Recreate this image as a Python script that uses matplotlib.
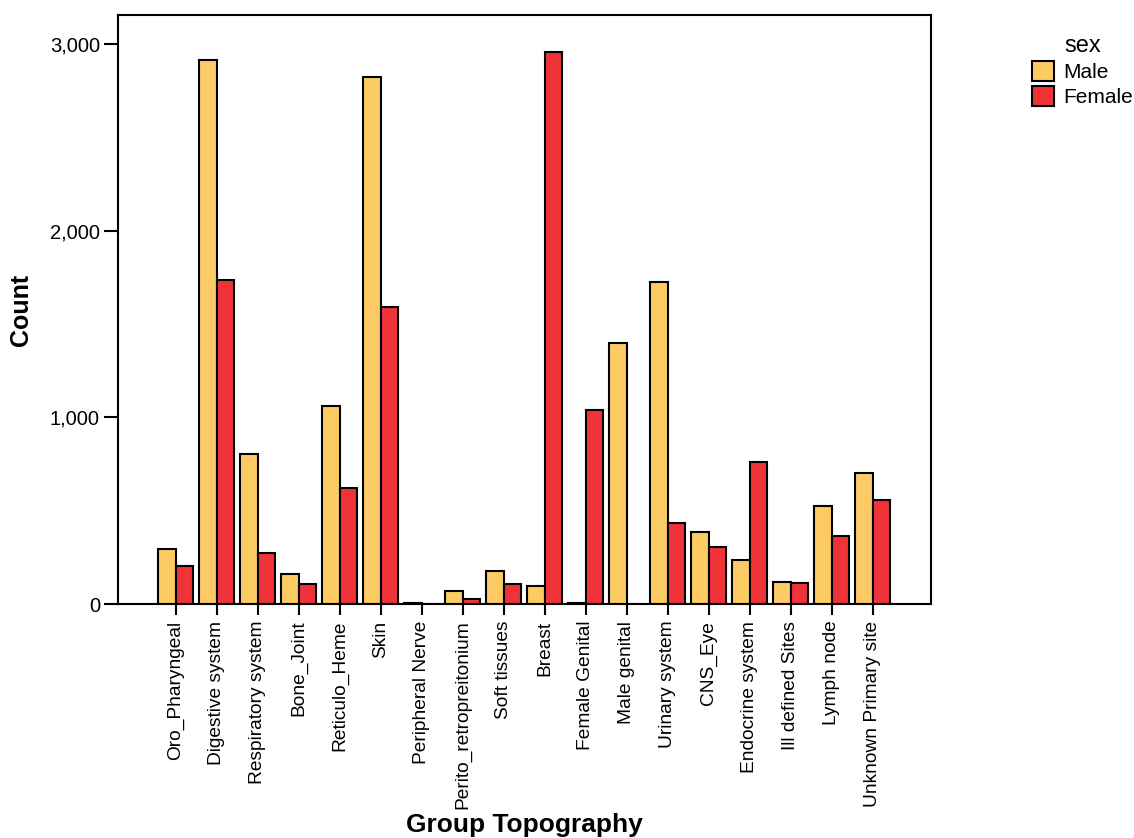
import matplotlib
matplotlib.use("Agg")
import matplotlib.pyplot as plt
import matplotlib.ticker as mticker
import numpy as np

plt.rcParams['font.family'] = ['Liberation Sans', 'DejaVu Sans']

# ======================== data ==============================
topography = ['Oro_Pharyngeal', 'Digestive system', 'Respiratory system', 'Bone_Joint',
              'Reticulo_Heme', 'Skin', 'Peripheral Nerve', 'Perito_retropreitonium',
              'Soft tissues', 'Breast', 'Female Genital', 'Male genital', 'Urinary system',
              'CNS_Eye', 'Endocrine system', 'Ill defined Sites', 'Lymph node',
              'Unknown Primary site']
male = [295, 2914, 804, 159, 1062, 2825, 3, 71, 177, 95, 4, 1398, 1727, 386, 234, 116, 525, 700]
female = [205, 1736, 271, 107, 620, 1591, 2, 29, 107, 2959, 1039, 1, 432, 307, 759, 112, 364, 557]

male_color = '#fdcb64'
female_color = '#ef3339'

# ======================== plot ==============================
fig = plt.figure(figsize=(11.34, 8.38), dpi=100)
ax = fig.add_axes([0.104, 0.2792, 0.7167, 0.7028])

x = np.arange(len(topography))
w = 0.427
ax.bar(x - w / 2, male, w, color=male_color, edgecolor='black', linewidth=1.5, label='Male')
ax.bar(x + w / 2, female, w, color=female_color, edgecolor='black', linewidth=1.5, label='Female')

ax.set_xlim(-1.41, len(topography) - 1 + 1.41)
ax.set_ylim(0, 3155)
ax.set_yticks([0, 1000, 2000, 3000])
ax.yaxis.set_major_formatter(mticker.StrMethodFormatter('{x:,.0f}'))
ax.set_xticks(x)
ax.set_xticklabels(topography, rotation=90, fontsize=13.8)
ax.tick_params(axis='y', labelsize=14.5, length=10, width=1.5, pad=3)
ax.tick_params(axis='x', length=8, width=1.5, pad=4)
for s in ax.spines.values():
    s.set_linewidth(1.5)

ax.set_ylabel('Count', fontsize=18, fontweight='bold', labelpad=12)
# x label placed by hand so it stays inside the figure
fig.text(0.462, 0.016, 'Group Topography', fontsize=19, fontweight='bold',
         ha='center', va='center')

fig.legend(title='sex', loc='upper left', bbox_to_anchor=(0.899, 0.973), frameon=False,
           fontsize=15, title_fontsize=17, handlelength=1.05, handleheight=1.05,
           handletextpad=0.45, labelspacing=0.2, borderaxespad=0.2)

fig.savefig('out.png', dpi=100)
